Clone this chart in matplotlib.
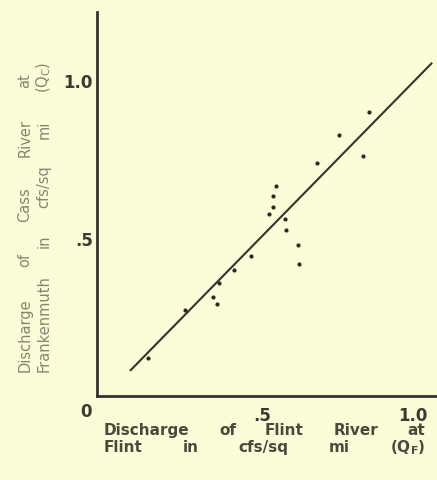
import matplotlib
matplotlib.use("Agg")
import matplotlib.pyplot as plt
import numpy as np

# ---- data ----
flint_q = [0.124, 0.245, 0.337, 0.352, 0.359, 0.408, 0.463, 0.524, 0.535, 0.537,
           0.547, 0.576, 0.580, 0.620, 0.621, 0.681, 0.756, 0.833, 0.855]
cass_q = [0.120, 0.273, 0.312, 0.290, 0.359, 0.400, 0.442, 0.575, 0.599, 0.634,
          0.664, 0.561, 0.525, 0.479, 0.418, 0.738, 0.825, 0.759, 0.899]
fit_slope = 0.975
fit_intercept = 0.018
fit_x_range = [0.063, 1.063]
x_ticks = [0.5, 1.0]
x_tick_labels = [".5", "1.0"]
y_ticks = [0.5, 1.0]
y_tick_labels = [".5", "1.0"]
xlabel_lines = [["Discharge", "of", "Flint", "River", "at"],
                ["Flint", "in", "cfs/sq", "mi", r"(Q$_{\mathregular{F}}$)"]]
ylabel_lines = [["Discharge", "of", "Cass", "River", "at"],
                ["Frankenmuth", "in", "cfs/sq", "mi", r"(Q$_{\mathregular{C}}$)"]]

W, H = 437, 481
BG = "#fdfcd9"
INK = "#34342a"

fig = plt.figure(figsize=(W / 100, H / 100), dpi=100, facecolor=BG)
ax = fig.add_axes([97 / W, (H - 397) / H, (W - 97) / W, (397 - 13) / H])
ax.set_facecolor(BG)

ax.set_xlim(-0.046, 1.079)
ax.set_ylim(0.0, 1.215)

# regression line
fx = np.array(fit_x_range)
ax.plot(fx, fit_slope * fx + fit_intercept, color=INK, lw=1.5, solid_capstyle="butt")
# points
ax.plot(flint_q, cass_q, "o", ms=3.0, color="#2a2a20", mec="none")

for s in ["top", "right"]:
    ax.spines[s].set_visible(False)
for s in ["left", "bottom"]:
    ax.spines[s].set_linewidth(2.0)
    ax.spines[s].set_color(INK)

ax.set_xticks(x_ticks)
ax.set_xticklabels(x_tick_labels)
ax.set_yticks(y_ticks)
ax.set_yticklabels(y_tick_labels)
ax.tick_params(length=0, labelsize=12, colors="#3a3a30")
ax.tick_params(axis="x", pad=7)
ax.tick_params(axis="y", pad=3)
for lab in ax.get_xticklabels() + ax.get_yticklabels():
    lab.set_fontweight("bold")
    lab.set_family("DejaVu Sans")

fig.text(86 / W, (H - 412) / H, "0", ha="center", va="center", fontsize=12,
         fontweight="bold", family="DejaVu Sans", color="#3a3a30")


def justify(words, p0, p1, c, vertical=False, **kw):
    fig.canvas.draw()
    r = fig.canvas.get_renderer()
    widths = []
    for w in words:
        t = fig.text(0, 0, w, **kw)
        widths.append(t.get_window_extent(r).width)
        t.remove()
    gap = (p1 - p0 - sum(widths)) / (len(words) - 1)
    pos = p0
    for w, wd in zip(words, widths):
        center = pos + wd / 2
        if vertical:
            fig.text(c / W, center / H, w, ha="center", va="center",
                     rotation=90, **kw)
        else:
            fig.text(center / W, c / H, w, ha="center", va="center", **kw)
        pos += wd + gap


xkw = dict(fontsize=11, fontweight="bold", family="DejaVu Sans", color="#4a4a3c")
justify(xlabel_lines[0], 104, 425, H - 431, **xkw)
justify(xlabel_lines[1], 104, 425, H - 448, **xkw)

ykw = dict(fontsize=10.5, family="DejaVu Sans", color="#85856f")
justify(ylabel_lines[0], H - 372, H - 73, 25, vertical=True, **ykw)
justify(ylabel_lines[1], H - 372, H - 62, 44, vertical=True, **ykw)

fig.savefig("out.png", dpi=100, facecolor=BG)
